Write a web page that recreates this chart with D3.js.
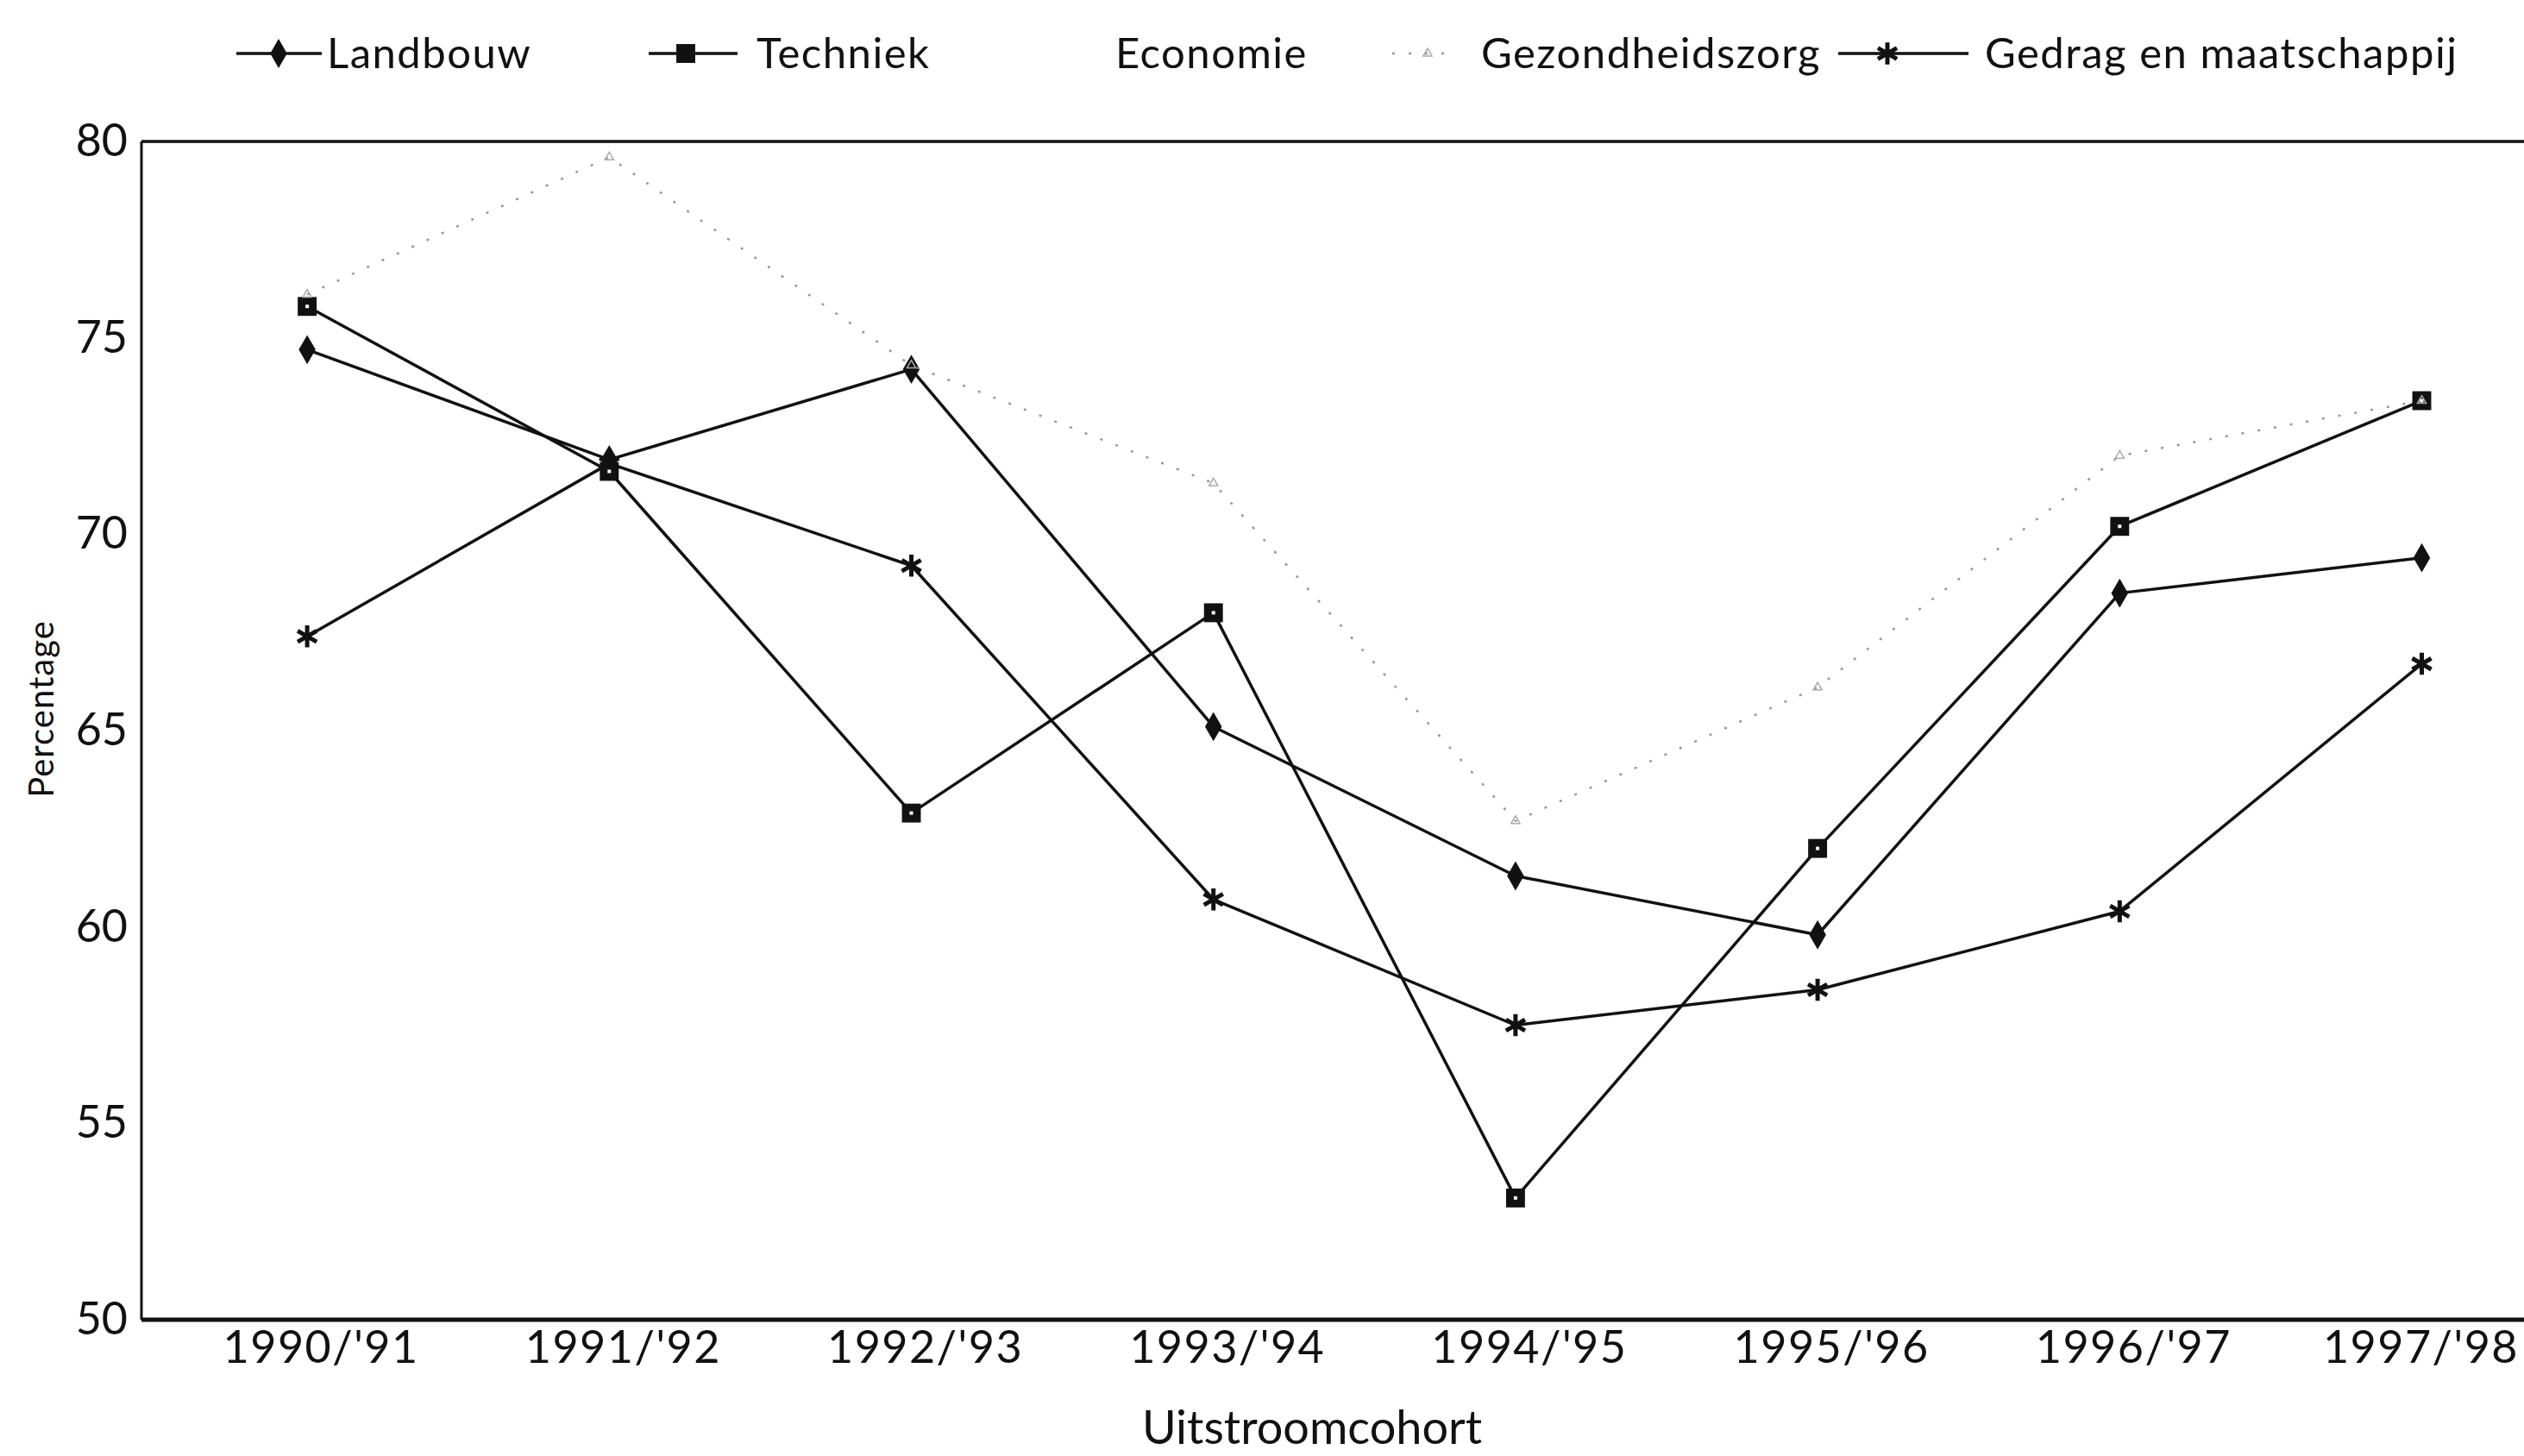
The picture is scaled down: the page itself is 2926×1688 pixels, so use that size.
<!DOCTYPE html>
<html>
<head>
<meta charset="utf-8">
<script src="https://cdn.jsdelivr.net/npm/d3@7"></script>
<style>
  html, body { margin: 0; padding: 0; background: #fff; }
  svg { display: block; }
  text { font-family: Lato, "Open Sans", sans-serif; fill: #111; }
</style>
</head>
<body>
<svg id="chart" width="2926" height="1688"></svg>
<script>
// ---------- data ----------
const categories = ["1990/'91", "1991/'92", "1992/'93", "1993/'94", "1994/'95", "1995/'96", "1996/'97", "1997/'98"];
const landbouw        = [74.7, 71.9, 74.2, 65.1, 61.3, 59.8, 68.5, 69.4];
const techniek        = [75.8, 71.6, 62.9, 68.0, 53.1, 62.0, 70.2, 73.4];
const economie        = [null, null, null, null, null, null, null, null]; // not legible in the scan
const gezondheidszorg = [76.1, 79.6, 74.3, 71.3, 62.7, 66.1, 72.0, 73.4];
const gedrag          = [67.4, 71.8, 69.2, 60.7, 57.5, 58.4, 60.4, 66.7];
const yTicks = [50, 55, 60, 65, 70, 75, 80];
const seriesNames = ["Landbouw", "Techniek", "Economie", "Gezondheidszorg", "Gedrag en maatschappij"];

// ---------- layout ----------
const W = 2926, H = 1688;
const plotLeft = 164, plotTop = 164, plotBottom = 1530;
const band = 350.2, bandStart = 181;
const svg = d3.select("#chart");
svg.append("rect").attr("width", W).attr("height", H).attr("fill", "#fff");

const x = d3.scaleBand().domain(categories).range([bandStart, bandStart + band * categories.length]).padding(0);
const y = d3.scaleLinear().domain([50, 80]).range([plotBottom, plotTop]);
const cx = c => x(c) + x.bandwidth() / 2;

// frame
svg.append("line").attr("x1", plotLeft).attr("x2", W).attr("y1", plotTop).attr("y2", plotTop)
  .attr("stroke", "#111").attr("stroke-width", 3.5);
svg.append("line").attr("x1", plotLeft).attr("x2", plotLeft).attr("y1", plotTop).attr("y2", plotBottom)
  .attr("stroke", "#111").attr("stroke-width", 3);
svg.append("line").attr("x1", plotLeft).attr("x2", W).attr("y1", plotBottom).attr("y2", plotBottom)
  .attr("stroke", "#111").attr("stroke-width", 5);

// y axis labels
const yAxis = d3.axisLeft(y).tickValues(yTicks).tickSize(0).tickPadding(16).tickFormat(d3.format("d"));
const gy = svg.append("g").attr("transform", `translate(${plotLeft},0)`).call(yAxis);
gy.select(".domain").remove();
gy.selectAll("text").attr("font-size", 52).attr("font-family", "Lato, sans-serif").attr("fill", "#111");

// x axis labels
const xAxis = d3.axisBottom(x).tickSize(0).tickPadding(0);
const gx = svg.append("g").attr("transform", `translate(0,${plotBottom})`).call(xAxis);
gx.select(".domain").remove();
gx.selectAll("text").attr("font-size", 52).attr("font-family", "Lato, sans-serif").attr("fill", "#111")
  .attr("dx", 16).attr("dy", 0).attr("y", 50).attr("letter-spacing", 1.5);
// keep the last label inside the page
gx.selectAll("text").filter(d => d === categories[categories.length - 1])
  .attr("text-anchor", "end").attr("dx", 0)
  .attr("transform", function () { return `translate(${W - 6 - cx(categories[categories.length - 1])},0)`; });

// axis titles
svg.append("text").attr("x", 1521).attr("y", 1674).attr("text-anchor", "middle")
  .attr("font-size", 54).text("Uitstroomcohort");
svg.append("text").attr("transform", "translate(62,822) rotate(-90)").attr("text-anchor", "middle")
  .attr("font-size", 40).attr("letter-spacing", 1).text("Percentage");

// ---------- series ----------
const line = d3.line().defined(d => d.v != null).x(d => cx(d.c)).y(d => y(d.v));
const mk = arr => categories.map((c, i) => ({ c, v: arr[i] }));

const styles = {
  "Landbouw": { data: landbouw, stroke: "#111", width: 3.5, dash: null, sym: d3.symbolDiamond, size: 330, fill: "#111", symStroke: "none", sw: 2 },
  "Techniek": { data: techniek, stroke: "#111", width: 3.5, dash: null, sym: d3.symbolSquare, size: 480, fill: "#111", symStroke: "none", sw: 2 },
  "Economie": { data: economie, stroke: "#f2f2f2", width: 2, dash: null, sym: null },
  "Gezondheidszorg": { data: gezondheidszorg, stroke: "#999", width: 2.5, dash: "3,16", sym: d3.symbolTriangle, size: 45, fill: "none", symStroke: "#aaa", sw: 1.5 },
  "Gedrag en maatschappij": { data: gedrag, stroke: "#111", width: 3.5, dash: null, sym: d3.symbolAsterisk, size: 460, fill: "none", symStroke: "#111", sw: 5 }
};

seriesNames.forEach(name => {
  const s = styles[name];
  const pts = mk(s.data);
  svg.append("path").datum(pts).attr("d", line).attr("fill", "none")
    .attr("stroke", s.stroke).attr("stroke-width", s.width)
    .attr("stroke-dasharray", s.dash).attr("stroke-linejoin", "round");
  if (s.sym) {
    svg.append("g").selectAll("path").data(pts.filter(d => d.v != null)).join("path")
      .attr("transform", d => `translate(${cx(d.c)},${y(d.v)})`)
      .attr("d", d3.symbol(s.sym, s.size))
      .attr("fill", s.fill).attr("stroke", s.symStroke).attr("stroke-width", s.sw);
  }
});
// tiny white dot inside Techniek squares
svg.append("g").selectAll("rect").data(mk(techniek)).join("rect")
  .attr("x", d => cx(d.c) - 2).attr("y", d => y(d.v) - 2).attr("width", 4).attr("height", 4).attr("fill", "#fff");

// ---------- legend ----------
const legend = [
  { name: "Landbouw", x1: 274, x2: 373, mx: 323, tx: 379 },
  { name: "Techniek", x1: 752, x2: 855, mx: 795, tx: 877 },
  { name: "Economie", x1: null, tx: 1293 },
  { name: "Gezondheidszorg", x1: 1614, x2: 1689, mx: 1655, tx: 1717 },
  { name: "Gedrag en maatschappij", x1: 2131, x2: 2282, mx: 2188, tx: 2301 }
];
const ly = 62;
legend.forEach(l => {
  const s = styles[l.name];
  if (l.x1 != null) {
    svg.append("line").attr("x1", l.x1).attr("x2", l.x2).attr("y1", ly).attr("y2", ly)
      .attr("stroke", s.stroke).attr("stroke-width", s.width).attr("stroke-dasharray", s.dash);
    svg.append("path").attr("transform", `translate(${l.mx},${ly})`)
      .attr("d", d3.symbol(s.sym, s.size))
      .attr("fill", s.fill).attr("stroke", s.symStroke).attr("stroke-width", s.sw);
  }
  svg.append("text").attr("x", l.tx).attr("y", ly + 17).attr("font-size", 49).attr("letter-spacing", 1.5)
    .text(l.name);
});
</script>
</body>
</html>
